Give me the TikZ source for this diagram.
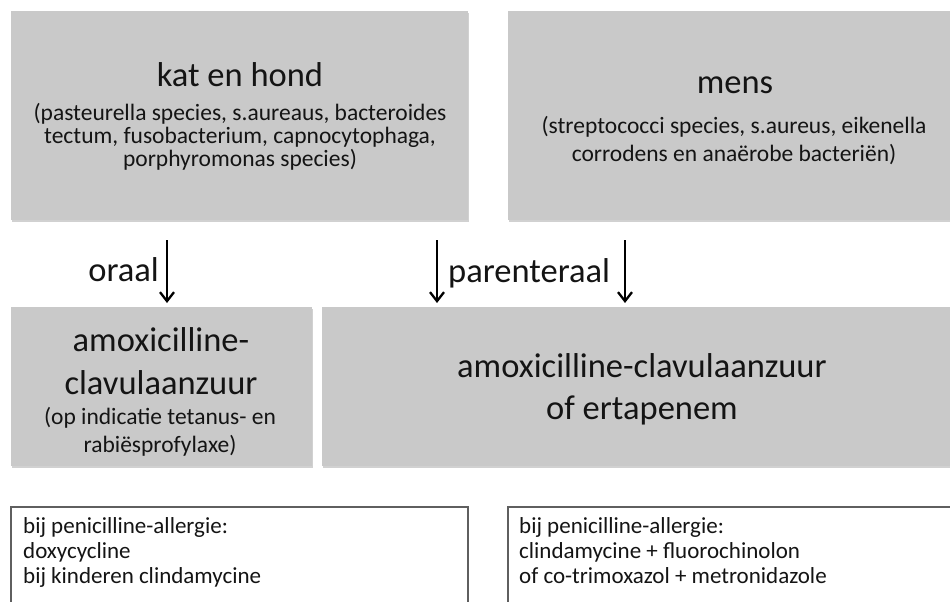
\documentclass[tikz,border=0pt]{standalone}
\usepackage{fontspec}
\setmainfont{Carlito}
\usetikzlibrary{arrows.meta,shadows}
\definecolor{boxgray}{RGB}{201,201,201}
\definecolor{txt}{RGB}{20,20,20}
\definecolor{bordergray}{RGB}{95,95,95}
\tikzset{
  graybox/.style={rectangle, fill=boxgray, draw=none, inner sep=0pt, outer sep=0pt,
    drop shadow={shadow xshift=1.2pt, shadow yshift=-2pt, opacity=0.18, fill=black}},
  whitebox/.style={rectangle, fill=white, draw=bordergray, line width=2pt, inner sep=0pt, outer sep=0pt,
    drop shadow={shadow xshift=1.2pt, shadow yshift=-2.5pt, opacity=0.18, fill=black}},
  bigtxt/.style={anchor=base, inner sep=0pt, text=txt, font=\fontsize{34.5}{40}\selectfont},
  subtxt/.style={anchor=base, inner sep=0pt, text=txt, font=\fontsize{23.5}{28}\selectfont},
  lefttxt/.style={anchor=base west, inner sep=0pt, text=txt, font=\fontsize{23}{28}\selectfont},
  arr/.style={-{Straight Barb[length=9pt,width=14pt,line width=2.3pt]}, line width=2.3pt, draw=black}
}
\begin{document}
\begin{tikzpicture}[x=1pt,y=-1pt]
\useasboundingbox (0,0) rectangle (950,602);
\clip (0,0) rectangle (950,602);
\fill[white] (0,0) rectangle (950,602);
% top boxes
\node[graybox, minimum width=457pt, minimum height=209pt] (kat) at (239.5,115.5) {};
\node[graybox, minimum width=456pt, minimum height=209pt] (mens) at (736,115.5) {};
% middle boxes
\node[graybox, minimum width=301pt, minimum height=159pt] (oral) at (161.5,386.5) {};
\node[graybox, minimum width=640pt, minimum height=159pt] (par) at (642,386.5) {};
% bottom boxes
\node[whitebox, minimum width=457pt, minimum height=133pt] (allo) at (239.5,573.5) {};
\node[whitebox, minimum width=455pt, minimum height=133pt] (allp) at (735,573.5) {};
% texts top left
\node[bigtxt] (t1) at (240,86) {kat en hond};
\node[subtxt] (t1a) at (240,120) {(pasteurella species, s.aureaus, bacteroides};
\node[subtxt] (t1b) at (240,143) {tectum, fusobacterium, capnocytophaga,};
\node[subtxt] (t1c) at (240,166) {porphyromonas species)};
% texts top right
\node[bigtxt] (t2) at (735,93) {mens};
\node[subtxt] (t2a) at (734,133) {(streptococci species, s.aureus, eikenella};
\node[subtxt] (t2b) at (734,161) {corrodens en anaërobe bacteriën)};
% middle left
\node[bigtxt] (t3) at (161,351) {amoxicilline-};
\node[bigtxt] (t3b) at (161,394) {clavulaanzuur};
\node[subtxt] (t3c) at (160,424) {(op indicatie tetanus- en};
\node[subtxt] (t3d) at (160,452) {rabiësprofylaxe)};
% middle right
\node[bigtxt] (t4) at (642,377) {amoxicilline-clavulaanzuur};
\node[bigtxt] (t4b) at (642,419) {of ertapenem};
% bottom texts
\node[lefttxt] (t5) at (23,533) {bij penicilline-allergie:};
\node[lefttxt] (t5b) at (23,558) {doxycycline};
\node[lefttxt] (t5c) at (23,583) {bij kinderen clindamycine};
\node[lefttxt] (t6) at (519,533) {bij penicilline-allergie:};
\node[lefttxt] (t6b) at (519,558) {clindamycine + fluorochinolon};
\node[lefttxt] (t6c) at (519,583) {of co-trimoxazol + metronidazole};
% arrow labels
\node[bigtxt, anchor=base east] (lo) at (159,281) {oraal};
\node[bigtxt, anchor=base west] (lp) at (448,282) {parenteraal};
% arrows
\coordinate (xo) at (167,0);
\coordinate (xpl) at (437,0);
\coordinate (xpr) at (625,0);
\draw[arr, shorten <=20pt, shorten >=4pt] (kat.south -| xo) -- (oral.north -| xo);
\draw[arr, shorten <=20pt, shorten >=4pt] (kat.south -| xpl) -- (par.north -| xpl);
\draw[arr, shorten <=20pt, shorten >=4pt] (mens.south -| xpr) -- (par.north -| xpr);
\end{tikzpicture}
\end{document}
